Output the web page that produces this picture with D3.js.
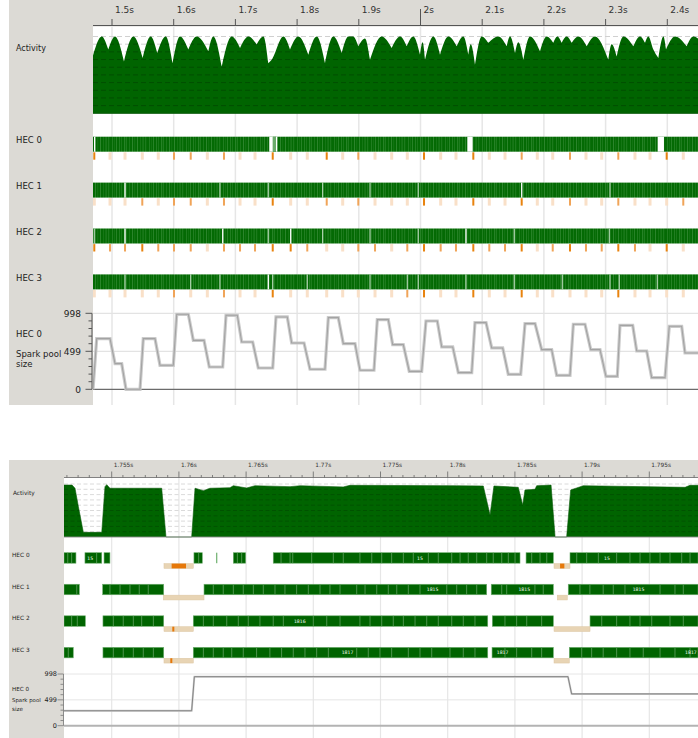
<!DOCTYPE html>
<html><head><meta charset="utf-8">
<script src="https://cdn.jsdelivr.net/npm/d3@7"></script>
<style>body{margin:0;background:#fff}svg{display:block}text{font-family:"DejaVu Sans",sans-serif}</style>
</head><body><script>
// ================= DATA =================
// Panel 1 (overview)
const p1TickValues=[1.5,1.6,1.7,1.8,1.9,2.0,2.1,2.2,2.3,2.4];
const p1TickLabels=["1.5s","1.6s","1.7s","1.8s","1.9s","2s","2.1s","2.2s","2.3s","2.4s"];
const p1Activity=[[1.4687,2.96],[1.4833,4],[1.494,3.32],[1.5049,4],[1.5194,2.70],[1.5346,4],[1.5497,2.88],[1.5627,4],[1.5734,3.14],[1.5870,4],[1.5983,2.61],[1.6102,4],[1.6237,3.32],[1.6372,4],[1.6561,3.23],[1.6642,4],[1.6778,2.44],[1.6940,4],[1.7075,3.40],[1.7210,4],[1.7345,3.58],[1.7453,4],[1.7534,2.61],[1.7588,2.79],[1.7777,4],[1.7885,3.32],[1.8020,4],[1.8182,3.05],[1.8317,4],[1.8452,2.61],[1.8587,4],[1.8723,3.14],[1.8831,4],[1.8906,4],[1.8992,3.49],[1.9100,3.9],[1.9181,2.79],[1.9371,4],[1.9533,3.40],[1.9668,4],[1.9776,3.49],[1.9883,4],[1.9992,3.05],[2.0035,3.7],[2.0073,2.79],[2.0208,4],[2.0316,3.05],[2.0451,4],[2.0587,3.49],[2.0694,4],[2.0775,3.05],[2.0814,3.6],[2.0883,2.53],[2.0992,4],[2.1099,3.67],[2.1261,4],[2.1397,3.49],[2.1451,4],[2.1532,3.14],[2.1586,3.7],[2.1667,2.79],[2.1775,4],[2.1937,3.23],[2.2045,4],[2.2153,3.67],[2.2218,4],[2.2287,3.67],[2.2369,4],[2.2450,3.67],[2.2558,4],[2.2694,3.49],[2.2828,4],[2.3044,2.79],[2.3099,3.6],[2.3180,2.96],[2.3288,4],[2.3450,3.49],[2.3558,4],[2.3639,3.67],[2.3693,4],[2.3774,3.32],[2.3855,2.88],[2.3937,4],[2.3979,3.32],[2.4125,4],[2.4314,3.49],[2.4422,4],[2.4498,3.9]];
const p1Gaps=[
 [[1.4708,1.4722],[1.7549,1.7605],[1.7658,1.7674],[2.0759,2.0846],[2.3844,2.3946]],
 [[1.5200,1.5222],[2.1630,2.1650]],
 [[1.5200,1.5222],[1.6784,1.6804],[1.7886,1.7906],[2.0727,2.0747]],
 [[1.7523,1.7543]]
];
const p1Light=[[[1.7605,1.7658]],[],[],[]];
const p1Seps=[
 [],
 [1.6750,1.7533,1.8415,1.9182,1.9964,2.3071],
 [1.4713,1.7533,1.8415,1.9182,1.9964,2.1520,2.3060],
 [1.5211,1.6276,1.6750,1.7605,1.8165,1.9182,1.9786,1.9964,2.0737,2.1520,2.2298,2.3071,2.3222,2.3838]
];
const p1GcTimes=[1.4713,1.4968,1.5211,1.5491,1.5750,1.6005,1.6276,1.6545,1.6815,1.7075,1.7318,1.7605,1.7896,1.8165,1.8480,1.8739,1.8992,1.9263,1.9533,1.9786,2.0057,2.0327,2.0575,2.0856,2.1115,2.1370,2.1640,2.1893,2.2143,2.2423,2.2682,2.2937,2.3206,2.3476,2.3720,2.3990,2.4259];
const p1GcLevels=[
 [2,0,0,0,0,1,1,0,1,0,0,2,0,0,2,0,1,0,0,0,2,0,0,2,0,0,1,0,0,1,0,0,1,0,0,2,0],
 [0,0,0,1,0,1,1,0,1,0,0,2,0,0,1,0,1,0,0,0,2,0,0,2,0,0,2,0,0,1,0,0,1,0,0,0,1],
 [2,1,1,2,1,1,1,0,1,1,1,2,2,1,0,0,1,1,0,1,2,1,1,2,1,1,2,0,1,2,1,1,2,1,0,2,0],
 [0,0,0,0,0,1,0,0,1,0,0,2,0,0,0,0,0,0,0,1,2,0,0,2,0,0,2,0,0,0,0,0,2,0,0,0,0]
];
const p1Spark=[[1.4692,0],[1.4752,665],[1.4968,665],[1.5049,337],[1.5157,337],[1.5227,0],[1.5454,0],[1.5507,665],[1.5697,665],[1.5778,315],[1.5994,315],[1.6049,985],[1.6237,985],[1.6318,643],[1.6491,643],[1.6577,293],[1.6794,293],[1.6848,972],[1.7031,972],[1.7102,621],[1.7280,621],[1.7371,280],[1.7605,280],[1.7658,950],[1.7841,950],[1.7912,608],[1.8112,608],[1.8209,263],[1.8452,263],[1.8506,941],[1.8668,941],[1.8749,600],[1.8938,600],[1.9019,250],[1.9246,250],[1.9300,915],[1.9478,915],[1.9549,587],[1.9721,587],[1.9818,236],[2.0019,236],[2.0089,897],[2.0272,897],[2.0344,556],[2.0522,556],[2.0613,219],[2.0830,219],[2.0883,876],[2.1062,876],[2.1154,543],[2.1332,543],[2.1423,197],[2.1624,197],[2.1694,862],[2.1856,862],[2.1964,521],[2.2126,521],[2.2207,184],[2.2423,184],[2.2477,854],[2.2666,854],[2.2759,521],[2.2909,521],[2.3006,171],[2.3190,171],[2.3233,840],[2.3439,840],[2.3504,503],[2.3666,503],[2.3747,153],[2.3963,153],[2.4032,827],[2.4233,827],[2.4287,477],[2.4498,477]];
const sparkTickLabels=[0,499,998];
const hecNames=["HEC 0","HEC 1","HEC 2","HEC 3"];

// Panel 2 (zoomed)
const p2TickValues=[1.755,1.76,1.765,1.77,1.775,1.78,1.785,1.79,1.795];
const p2TickLabels=["1.755s","1.76s","1.765s","1.77s","1.775s","1.78s","1.785s","1.79s","1.795s"];
const p2Activity=[[1.75145,3.92],[1.75205,3.92],[1.75227,3.68],[1.75252,2.3],[1.75289,0.35],[1.75426,0.35],[1.75450,3.8],[1.75463,3.95],[1.75487,3.68],[1.75872,3.68],[1.75904,0],[1.76095,0],[1.76120,3.68],[1.76182,3.5],[1.76231,3.68],[1.76380,3.72],[1.76405,3.87],[1.76504,3.7],[1.76566,3.87],[1.76827,3.8],[1.76902,3.87],[1.77223,3.78],[1.77273,3.9],[1.78067,3.87],[1.78265,3.85],[1.78315,1.66],[1.78344,3.85],[1.78525,3.75],[1.78558,2.42],[1.78575,3.55],[1.78650,3.6],[1.78662,3.87],[1.78769,3.92],[1.78799,0],[1.78885,0],[1.78915,3.55],[1.79009,3.87],[1.79766,3.75],[1.79803,3.9],[1.79863,3.9]];
const p2Runs=[
 [[1.75145,1.75234],[1.75301,1.75426],[1.75443,1.75487],[1.76112,1.76174],[1.76405,1.76497],[1.76702,1.78538],[1.78583,1.78786],[1.78910,1.79863]],
 [[1.75145,1.75259],[1.75433,1.75887],[1.76187,1.78290],[1.78324,1.78786],[1.78897,1.79863]],
 [[1.75145,1.75304],[1.75435,1.75887],[1.76107,1.78298],[1.78332,1.78786],[1.79059,1.79863]],
 [[1.75145,1.75214],[1.75435,1.75887],[1.76107,1.78298],[1.78330,1.78786],[1.78905,1.79863]]
];
const p2LightRuns=[[[1.76276,1.76286]],[],[],[]];
const p2Seps=[
 [1.75173,1.75202,1.75388,1.76147,1.76435,1.76467,1.76760,1.76827,1.76847,1.76988,1.77149,1.77223,1.77347,1.77435,1.77509,1.77583,1.77670,1.77744,1.77856,1.77930,1.78030,1.78092,1.78153,1.78216,1.78290,1.78339,1.78402,1.78451,1.78501,1.78625,1.78687,1.78737,1.78960,1.79034,1.79121,1.79257,1.79356,1.79431,1.79505,1.79580,1.79654,1.79741,1.79803],
 [1.75240,1.75487,1.75562,1.75636,1.75705,1.75772,1.76256,1.76330,1.76405,1.76479,1.76554,1.76628,1.76715,1.76789,1.76876,1.76963,1.77050,1.77124,1.77199,1.77323,1.77385,1.77472,1.77558,1.77621,1.77707,1.77794,1.77993,1.78067,1.78141,1.78216,1.78402,1.78439,1.78649,1.78711,1.78984,1.79058,1.79157,1.79232,1.79319,1.79580,1.79691,1.79753],
 [1.75202,1.75244,1.75512,1.75586,1.75661,1.75723,1.75810,1.76182,1.76256,1.76356,1.76442,1.76516,1.76603,1.76702,1.76777,1.77000,1.77100,1.77199,1.77347,1.77422,1.77509,1.77595,1.77670,1.77757,1.77844,1.77930,1.78030,1.78116,1.78203,1.78426,1.78513,1.78588,1.78699,1.79146,1.79257,1.79356,1.79431,1.79518,1.79654,1.79753],
 [1.75177,1.75512,1.75586,1.75661,1.75735,1.75810,1.76182,1.76256,1.76330,1.76393,1.76479,1.76578,1.76677,1.76764,1.76851,1.76938,1.77025,1.77112,1.77323,1.77409,1.77496,1.77583,1.77707,1.77794,1.77881,1.78017,1.78116,1.78203,1.78426,1.78513,1.78625,1.78699,1.78997,1.79071,1.79157,1.79257,1.79356,1.79455,1.79580,1.79691,1.79803]
];
const p2Labels=[
 [[1.75318,"15"],[1.77772,"15"],[1.79163,"15"]],
 [[1.77844,"1815"],[1.78526,"1815"],[1.79376,"1815"]],
 [[1.76856,"1816"]],
 [[1.77211,"1817"],[1.78365,"1817"],[1.79766,"1817"]]
];
const p2Gc=[
 [[1.75889,1.76107],[1.78791,1.78910]],
 [[1.75884,1.76187],[1.78815,1.78890]],
 [[1.75889,1.76107],[1.78791,1.79059]],
 [[1.75889,1.76107],[1.78791,1.78905]]
];
const p2GcActive=[
 [[1.75946,1.76053],[1.78836,1.78868]],
 [],
 [[1.75951,1.75966]],
 [[1.75936,1.75951]]
];
const p2Spark=[[1.75145,288],[1.76095,288],[1.76115,946],[1.78895,946],[1.78922,614],[1.79863,614]];

// ================= DRAWING =================
const W=698,H=738,GRAY="#dcdad5",GREEN="#006400";
const svg=d3.select("body").append("svg").attr("width",W).attr("height",H);
const defs=svg.append("defs");
// streak texture for dense event bars
const pat=defs.append("pattern").attr("id","streak").attr("patternUnits","userSpaceOnUse").attr("width",37).attr("height",60);
pat.append("rect").attr("width",37).attr("height",60).attr("fill","#046a04");
[[1,0.7,0.45],[3.5,0.5,0.3],[5,1,0.4],[8.2,0.6,0.55],[10,0.8,0.3],[13,1.2,0.4],[15.5,0.5,0.6],[18,0.7,0.35],[21,1,0.45],[23.5,0.6,0.3],[26,0.9,0.5],[29,0.5,0.4],[31.5,1.1,0.35],[34.5,0.6,0.55]]
 .forEach(s=>pat.append("rect").attr("x",s[0]).attr("width",s[1]).attr("height",60).attr("fill","#5aa55a").attr("opacity",s[2]));

function clip(id,x,y,w,h){defs.append("clipPath").attr("id",id).append("rect").attr("x",x).attr("y",y).attr("width",w).attr("height",h);return `url(#${id})`;}
function pathClip(id,d){defs.append("clipPath").attr("id",id).append("path").attr("d",d);return `url(#${id})`;}

// area whose humps are rounded and whose notches stay sharp
function humpArea(data,x,y,y0){
 const idx=[0];
 for(let k=1;k<data.length-1;k++){ if(data[k][1]<data[k-1][1]&&data[k][1]<data[k+1][1]) idx.push(k); }
 idx.push(data.length-1);
 const ln=d3.line().x(d=>x(d[0])).y(d=>y(d[1])).curve(d3.curveMonotoneX);
 let p=`M${x(data[0][0])},${y0}`;
 for(let s=0;s<idx.length-1;s++){ p+=ln(data.slice(idx[s],idx[s+1]+1)).replace(/^M/,"L"); }
 return p+`L${x(data[data.length-1][0])},${y0}Z`;
}
function dashes(g,L,ya,dash,sw,color,clipUrl){
 const gg=g.append("g"); if(clipUrl) gg.attr("clip-path",clipUrl);
 gg.selectAll("line").data(d3.range(1,11)).join("line").attr("x1",L).attr("x2",W).attr("y1",d=>ya(d*0.4)).attr("y2",d=>ya(d*0.4))
  .attr("stroke",color).attr("stroke-dasharray",dash).attr("stroke-width",sw);
}

// ---------- PANEL 1 ----------
{
 const L=93, RT=26.5, B=405;
 const x=d3.scaleLinear().domain([1.5,2.4]).range([112,667.3]);
 svg.append("rect").attr("x",9).attr("y",0).attr("width",W-9).attr("height",RT).attr("fill",GRAY);
 svg.append("rect").attr("x",9).attr("y",0).attr("width",L-9).attr("height",B).attr("fill",GRAY);
 const g=svg.append("g").attr("clip-path",clip("c1",L,RT,W-L,B-RT));
 g.selectAll(".vg").data(p1TickValues).join("line").attr("x1",d=>x(d)).attr("x2",d=>x(d)).attr("y1",RT).attr("y2",B).attr("stroke","#e6e6e6").attr("stroke-width",1.5);
 // ruler
 svg.append("line").attr("x1",L).attr("x2",W).attr("y1",25.5).attr("y2",25.5).attr("stroke","#555");
 svg.selectAll(".t1").data(p1TickValues).join("line").attr("x1",d=>x(d)).attr("x2",d=>x(d)).attr("y1",25.5).attr("y2",(d,i)=>p1TickLabels[i]==="2s"?9:19).attr("stroke","#555");
 svg.selectAll(".tl1").data(p1TickValues).join("text").attr("x",d=>x(d)+3).attr("y",13).attr("font-size",9).attr("fill","#333").text((d,i)=>p1TickLabels[i]);
 // activity
 const ya=d3.scaleLinear().domain([0,4]).range([113.3,36.5]);
 const ad=humpArea(p1Activity,x,ya,ya(0));
 dashes(g,L,ya,"5,3",1,"#d0d0d0",null);
 g.append("path").attr("fill",GREEN).attr("d",ad);
 dashes(g,L,ya,"5,3",1,"rgba(0,0,0,0.22)",pathClip("a1",ad));
 g.append("line").attr("x1",L).attr("x2",W).attr("y1",ya(0)).attr("y2",ya(0)).attr("stroke","#0b5a0b").attr("stroke-width",1);
 svg.append("text").attr("x",16).attr("y",51).attr("font-size",8).attr("fill","#222").text("Activity");
 // HEC rows
 hecNames.forEach((name,i)=>{
  const top=136.7+i*45.9, h=15;
  g.append("rect").attr("x",L).attr("y",top).attr("width",W-L).attr("height",h).attr("fill","url(#streak)");
  p1Seps[i].forEach(t=>g.append("rect").attr("x",x(t)-0.6).attr("y",top).attr("width",1.2).attr("height",h).attr("fill","#cfe6cf").attr("opacity",0.85));
  p1Light[i].forEach(s=>g.append("rect").attr("x",x(s[0])).attr("y",top).attr("width",x(s[1])-x(s[0])).attr("height",h).attr("fill","#6aaa6a"));
  p1Gaps[i].forEach(s=>g.append("rect").attr("x",x(s[0])).attr("y",top).attr("width",Math.max(1.3,x(s[1])-x(s[0]))).attr("height",h).attr("fill","#fff"));
  p1GcTimes.forEach((t,j)=>{
   const lv=p1GcLevels[i][j];
   const w=lv===0?3:2;
   g.append("rect").attr("x",x(t)-w/2).attr("y",top+h+0.6).attr("width",w).attr("height",7.4)
    .attr("fill",lv===2?"#e8830f":lv===1?"#f0a458":"#f9e0c8");
  });
  svg.append("text").attr("x",16).attr("y",top+6.5).attr("font-size",8.5).attr("fill","#222").text(name);
 });
 // spark pool
 const ys=d3.scaleLinear().domain([0,998]).range([389.3,313.3]);
 g.selectAll(".hg").data([499,998]).join("line").attr("x1",L).attr("x2",W).attr("y1",d=>ys(d)).attr("y2",d=>ys(d)).attr("stroke","#e3e3e3").attr("stroke-width",1.2);
 g.append("line").attr("x1",L).attr("x2",W).attr("y1",ys(0)).attr("y2",ys(0)).attr("stroke","#6b6b6b").attr("stroke-width",1.2);
 const sl=d3.line().x(d=>x(d[0])).y(d=>ys(d[1]));
 g.append("path").datum(p1Spark).attr("fill","none").attr("stroke","#cbcbcb").attr("stroke-width",3.2).attr("d",sl);
 g.append("path").datum(p1Spark).attr("fill","none").attr("stroke","#a3a3a3").attr("stroke-width",1.1).attr("d",sl);
 svg.append("line").attr("x1",92).attr("x2",92).attr("y1",ys(998)).attr("y2",ys(0)).attr("stroke","#555");
 svg.selectAll(".st1").data(d3.range(0,11)).join("line").attr("x1",d=>d%5===0?85.5:88.5).attr("x2",92)
  .attr("y1",d=>ys(d*99.8)).attr("y2",d=>ys(d*99.8)).attr("stroke","#555");
 svg.selectAll(".sl1").data(sparkTickLabels).join("text").attr("x",81).attr("y",d=>ys(d)+3.3).attr("text-anchor","end").attr("font-size",9).attr("fill","#222").text(d=>d);
 svg.append("text").attr("x",16).attr("y",337).attr("font-size",8.5).attr("fill","#222").text("HEC 0");
 svg.append("text").attr("x",16).attr("y",356.5).attr("font-size",8.5).attr("fill","#222").text("Spark pool");
 svg.append("text").attr("x",16).attr("y",366.5).attr("font-size",8.5).attr("fill","#222").text("size");
}

// ---------- PANEL 2 ----------
{
 const L=64, T=460, RT=477.5, B=738;
 const x=d3.scaleLinear().domain([1.755,1.795]).range([111.7,649.3]);
 svg.append("rect").attr("x",9).attr("y",T).attr("width",W-9).attr("height",RT-T).attr("fill",GRAY);
 svg.append("rect").attr("x",9).attr("y",T).attr("width",L-9).attr("height",B-T).attr("fill",GRAY);
 const g=svg.append("g").attr("clip-path",clip("c2",L,RT,W-L,B-RT));
 g.selectAll(".vg").data(p2TickValues).join("line").attr("x1",d=>x(d)).attr("x2",d=>x(d)).attr("y1",RT).attr("y2",B).attr("stroke","#e6e6e6").attr("stroke-width",1.2);
 // ruler
 const rg=svg.append("g").attr("clip-path",clip("c2r",L,T,W-L,RT-T+1));
 rg.append("line").attr("x1",L).attr("x2",W).attr("y1",RT).attr("y2",RT).attr("stroke","#666").attr("stroke-width",0.8);
 const step=0.005/6;
 const minor=d3.range(-5,60).map(k=>1.755+k*step);
 rg.selectAll(".mt").data(minor).join("line").attr("x1",d=>x(d)).attr("x2",d=>x(d)).attr("y1",RT).attr("y2",(d,k)=>(k%6===5)?471.5:475)
  .attr("stroke","#666").attr("stroke-width",0.8);
 rg.selectAll(".tl2").data(p2TickValues).join("text").attr("x",d=>x(d)+2).attr("y",467.3).attr("font-size",5.8).attr("fill","#333").text((d,i)=>p2TickLabels[i]);
 // activity
 const ya=d3.scaleLinear().domain([0,4]).range([537,484]);
 const ad=d3.area().x(d=>x(d[0])).y0(ya(0)).y1(d=>ya(d[1]))(p2Activity);
 dashes(g,L,ya,"4,2.5",0.8,"#d0d0d0",null);
 g.append("path").attr("fill",GREEN).attr("d",ad);
 dashes(g,L,ya,"4,2.5",0.8,"rgba(0,0,0,0.22)",pathClip("a2",ad));
 g.append("path").datum(p2Activity).attr("fill","none").attr("stroke","#0a5a0a").attr("stroke-width",0.6)
  .attr("d",d3.line().x(d=>x(d[0])).y(d=>ya(d[1])));
 g.append("line").attr("x1",L).attr("x2",W).attr("y1",ya(0)).attr("y2",ya(0)).attr("stroke","#8a8a8a").attr("stroke-width",0.9);
 svg.append("text").attr("x",13).attr("y",494.5).attr("font-size",5.8).attr("fill","#222").text("Activity");
 // HEC rows
 hecNames.forEach((name,i)=>{
  const top=552.7+i*31.55, h=10.5;
  p2Runs[i].forEach(s=>g.append("rect").attr("x",x(s[0])).attr("y",top).attr("width",x(s[1])-x(s[0])).attr("height",h)
    .attr("fill",GREEN).attr("stroke","#6fae6f").attr("stroke-width",0.6));
  p2LightRuns[i].forEach(s=>g.append("rect").attr("x",x(s[0])).attr("y",top).attr("width",Math.max(1.3,x(s[1])-x(s[0]))).attr("height",h).attr("fill","#7db87d"));
  p2Seps[i].forEach(t=>g.append("line").attr("x1",x(t)).attr("x2",x(t)).attr("y1",top).attr("y2",top+h).attr("stroke","#5f9f5f").attr("stroke-width",0.8));
  p2Labels[i].forEach(l=>g.append("text").attr("x",x(l[0])).attr("y",top+7).attr("font-size",4.6).attr("fill","#fff").text(l[1]));
  p2Gc[i].forEach(s=>g.append("rect").attr("x",x(s[0])).attr("y",top+h+0.4).attr("width",x(s[1])-x(s[0])).attr("height",4.8)
    .attr("fill","#e8d4b4").attr("stroke","#dcc5a2").attr("stroke-width",0.5));
  p2GcActive[i].forEach(s=>g.append("rect").attr("x",x(s[0])).attr("y",top+h+0.4).attr("width",Math.max(1.2,x(s[1])-x(s[0]))).attr("height",4.8).attr("fill","#e6780a"));
  svg.append("text").attr("x",12).attr("y",top+4.6).attr("font-size",5.8).attr("fill","#222").text(name);
 });
 // spark
 const ys=d3.scaleLinear().domain([0,998]).range([725.7,674]);
 g.selectAll(".hg").data([499,998]).join("line").attr("x1",L).attr("x2",W).attr("y1",d=>ys(d)).attr("y2",d=>ys(d)).attr("stroke","#e6e6e6").attr("stroke-width",1);
 g.append("line").attr("x1",L).attr("x2",W).attr("y1",ys(0)).attr("y2",ys(0)).attr("stroke","#b3b3b3").attr("stroke-width",2);
 const sl=d3.line().x(d=>x(d[0])).y(d=>ys(d[1]));
 g.append("path").datum(p2Spark).attr("fill","none").attr("stroke","#cccccc").attr("stroke-width",2).attr("d",sl);
 g.append("path").datum(p2Spark).attr("fill","none").attr("stroke","#7c7c7c").attr("stroke-width",0.9).attr("d",sl);
 svg.append("line").attr("x1",63.5).attr("x2",63.5).attr("y1",ys(998)).attr("y2",ys(0)).attr("stroke","#777").attr("stroke-width",0.8);
 svg.selectAll(".st2").data(d3.range(0,11)).join("line").attr("x1",d=>d%5===0?57.5:60.5).attr("x2",63.5)
  .attr("y1",d=>ys(d*99.8)).attr("y2",d=>ys(d*99.8)).attr("stroke","#777").attr("stroke-width",0.8);
 svg.selectAll(".sl2").data(sparkTickLabels).join("text").attr("x",57).attr("y",d=>ys(d)+2.4).attr("text-anchor","end").attr("font-size",6.5).attr("fill","#222").text(d=>d);
 svg.append("text").attr("x",12).attr("y",690.5).attr("font-size",5.6).attr("fill","#222").text("HEC 0");
 svg.append("text").attr("x",12).attr("y",702.3).attr("font-size",5.4).attr("fill","#222").text("Spark pool");
 svg.append("text").attr("x",12).attr("y",711).attr("font-size",5.6).attr("fill","#222").text("size");
}
</script></body></html>
